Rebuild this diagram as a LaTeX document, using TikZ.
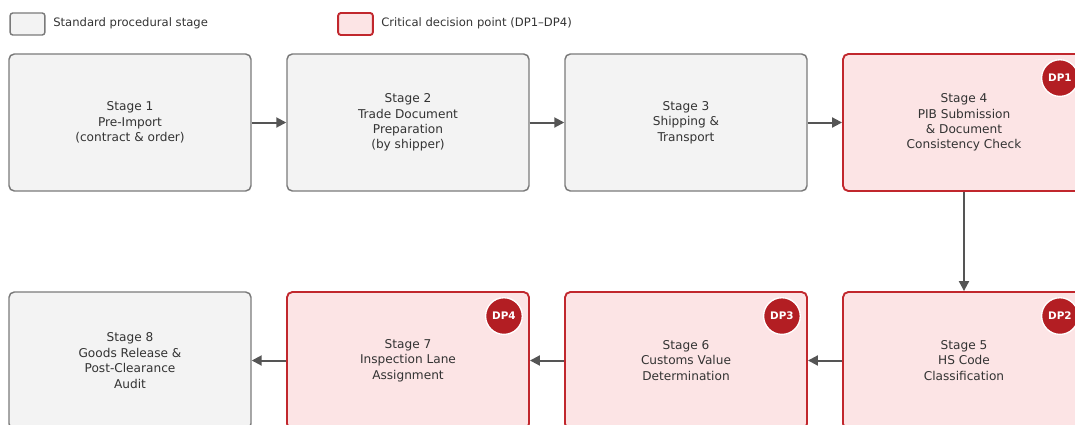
\documentclass[tikz,border=0pt]{standalone}
\usepackage{fontspec}
\setmainfont{DejaVu Sans}
\usetikzlibrary{arrows.meta,calc}
\definecolor{txt}{HTML}{333333}
\definecolor{stdfill}{HTML}{F3F3F3}
\definecolor{stdline}{HTML}{7A7A7A}
\definecolor{critfill}{HTML}{FCE4E5}
\definecolor{critline}{HTML}{C1272D}
\definecolor{badge}{HTML}{B31E23}
\definecolor{arr}{HTML}{555555}
\tikzset{
  stdbox/.style={draw=stdline, fill=stdfill, line width=1.1pt, rounded corners=4pt,
    minimum width=181.5pt, minimum height=102.75pt, align=center, text=txt,
    font=\fontsize{9.1pt}{11.6pt}\selectfont, inner sep=0pt},
  critbox/.style={stdbox, draw=critline, fill=critfill, line width=1.4pt},
  dpbadge/.style={circle, fill=badge, draw=white, line width=1pt, minimum size=27.5pt,
    inner sep=0pt, text=white, font=\fontsize{7.8pt}{8pt}\selectfont\bfseries},
  flow/.style={draw=arr, line width=1.5pt, -{Triangle[length=7.5pt,width=7.5pt]}},
  legbox/.style={rounded corners=2pt, minimum width=26pt, minimum height=16.5pt, inner sep=0pt},
  legtxt/.style={anchor=west, text=txt, font=\fontsize{8.7pt}{10pt}\selectfont, inner sep=0pt}
}
\begin{document}
\begin{tikzpicture}[x=0.75pt,y=-0.75pt]
\useasboundingbox (0,0) rectangle (1075,425);
% legend
\node[legbox, draw=stdline, fill=stdfill, line width=1.1pt] (l1) at (27.5,24) {};
\node[legtxt] (l1t) at (53,23) {Standard procedural stage};
\node[legbox, draw=critline, fill=critfill, line width=1.4pt] (l2) at (355.5,24) {};
\node[legtxt] (l2t) at (381,23) {Critical decision point (DP1–DP4)};
% row 1
\node[stdbox] (s1) at (130,122.5) {Stage 1\\Pre-Import\\(contract \& order)};
\node[stdbox] (s2) at (408,122.5) {Stage 2\\Trade Document\\Preparation\\(by shipper)};
\node[stdbox] (s3) at (686,122.5) {Stage 3\\Shipping \&\\Transport};
\node[critbox] (s4) at (964,122.5) {Stage 4\\PIB Submission\\\& Document\\Consistency Check};
% row 2
\node[critbox] (s5) at (964,360.5) {Stage 5\\HS Code\\Classification};
\node[critbox] (s6) at (686,360.5) {Stage 6\\Customs Value\\Determination};
\node[critbox] (s7) at (408,360.5) {Stage 7\\Inspection Lane\\Assignment};
\node[stdbox] (s8) at (130,360.5) {Stage 8\\Goods Release \&\\Post-Clearance\\Audit};
% badges
\node[dpbadge] (d1) at ($(s4.north east)+(-26,25)$) {DP1};
\node[dpbadge] (d2) at ($(s5.north east)+(-26,25)$) {DP2};
\node[dpbadge] (d3) at ($(s6.north east)+(-26,25)$) {DP3};
\node[dpbadge] (d4) at ($(s7.north east)+(-26,25)$) {DP4};
% arrows
\draw[flow] (s1) -- (s2);
\draw[flow] (s2) -- (s3);
\draw[flow] (s3) -- (s4);
\draw[flow] (s4) -- (s5);
\draw[flow] (s5) -- (s6);
\draw[flow] (s6) -- (s7);
\draw[flow] (s7) -- (s8);
\end{tikzpicture}
\end{document}
